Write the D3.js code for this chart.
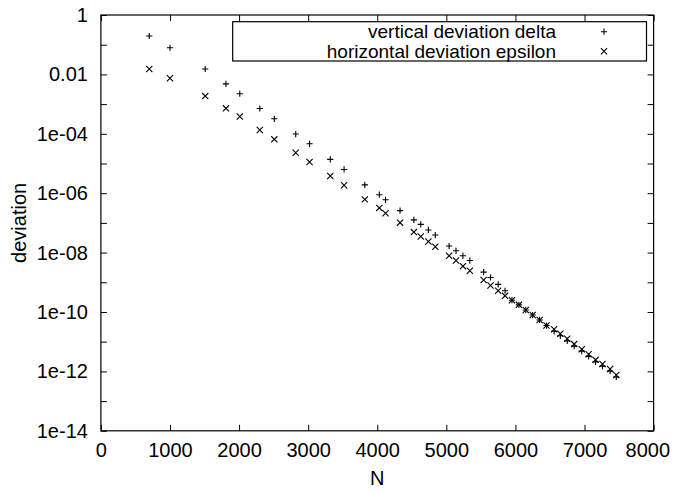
<!DOCTYPE html>
<html>
<head>
<meta charset="utf-8">
<script src="https://cdn.jsdelivr.net/npm/d3@7"></script>
<style>
  html, body { margin: 0; padding: 0; background: #fff; }
  svg { display: block; }
  text { font-family: "Liberation Sans", Arial, Helvetica, sans-serif; fill: #000; }
</style>
</head>
<body>
<svg id="chart" width="674" height="492"></svg>
<script>
// ---- data ----
const nValues = [700, 1000, 1510, 1810, 2010, 2300, 2510, 2820, 3020, 3320, 3520, 3820, 4030, 4120, 4330, 4530, 4630, 4740, 4840, 5040, 5140, 5240, 5340, 5540, 5640, 5750, 5850, 5950, 6050, 6150, 6250, 6350, 6450, 6560, 6650, 6750, 6850, 6960, 7060, 7160, 7260, 7370, 7460];
const deltaValues = [1.96e-1, 7.9e-2, 1.52e-2, 4.8e-3, 2.24e-3, 7.1e-4, 3.2e-4, 9.8e-5, 4.6e-5, 1.38e-5, 6.3e-6, 1.9e-6, 8.9e-7, 6.0e-7, 2.6e-7, 1.26e-7, 8.9e-8, 5.8e-8, 3.9e-8, 1.66e-8, 1.15e-8, 7.8e-9, 5.4e-9, 2.2e-9, 1.45e-9, 8.5e-10, 5.2e-10, 2.5e-10, 1.74e-10, 1.17e-10, 7.9e-11, 5.4e-11, 3.5e-11, 2.24e-11, 1.58e-11, 1.07e-11, 7.1e-12, 4.8e-12, 3.2e-12, 2.1e-12, 1.51e-12, 1.02e-12, 6.5e-13];
const epsilonValues = [1.52e-2, 7.4e-3, 1.86e-3, 7.2e-4, 3.8e-4, 1.35e-4, 6.5e-5, 2.3e-5, 1.12e-5, 3.8e-6, 1.86e-6, 6.2e-7, 3.2e-7, 2.1e-7, 1.02e-7, 4.9e-8, 3.5e-8, 2.35e-8, 1.58e-8, 7.8e-9, 5.4e-9, 3.5e-9, 2.45e-9, 1.2e-9, 7.8e-10, 5.2e-10, 3.5e-10, 2.5e-10, 1.74e-10, 1.17e-10, 7.9e-11, 5.4e-11, 3.5e-11, 2.63e-11, 1.86e-11, 1.26e-11, 8.3e-12, 5.6e-12, 3.8e-12, 2.45e-12, 1.78e-12, 1.2e-12, 7.6e-13];
const xTicks = [0, 1000, 2000, 3000, 4000, 5000, 6000, 7000, 8000];
const yTicks = [1, 1e-1, 1e-2, 1e-3, 1e-4, 1e-5, 1e-6, 1e-7, 1e-8, 1e-9, 1e-10, 1e-11, 1e-12, 1e-13, 1e-14];
const yTickLabels = ["1", "", "0.01", "", "1e-04", "", "1e-06", "", "1e-08", "", "1e-10", "", "1e-12", "", "1e-14"];
const seriesNames = ["vertical deviation delta", "horizontal deviation epsilon"];
const xTitle = "N";
const yTitle = "deviation";

// ---- layout ----
const W = 674;
const L = 100.9, R = 653.6, T = 15, B = 430.8;
const FONT = 20, KEYFONT = 19;
const svg = d3.select("#chart");

const x = d3.scaleLinear().domain([0, 8000]).range([L, R]);
const y = d3.scaleLog().domain([1e-14, 1]).range([B, T]);

function styleAxis(g) {
  g.select(".domain").remove();
  g.selectAll(".tick line").attr("stroke", "#000").attr("stroke-width", 1);
  g.selectAll(".tick text").style("font-size", FONT + "px").style("font-family", "'Liberation Sans', Arial, sans-serif").attr("fill", "#000");
}

const xAxisG = svg.append("g").attr("transform", `translate(0,${B})`)
  .call(d3.axisBottom(x).tickValues(xTicks).tickSize(-6).tickPadding(12).tickFormat(d3.format("d")))
  .call(styleAxis);
// keep the last tick label inside the window
xAxisG.selectAll(".tick").each(function () {
  const t = d3.select(this).select("text");
  const bb = this.getBBox();
  const m = this.getCTM();
  const right = m.e + bb.x + bb.width;
  if (right > W - 4) t.attr("x", (W - 4) - right);
});

svg.append("g").attr("transform", `translate(0,${T})`)
  .call(d3.axisTop(x).tickValues(xTicks).tickSize(-6).tickFormat(""))
  .call(styleAxis);
svg.append("g").attr("transform", `translate(${L},0)`)
  .call(d3.axisLeft(y).tickValues(yTicks).tickSize(-6).tickPadding(13).tickFormat((d, i) => yTickLabels[i]))
  .call(styleAxis);
svg.append("g").attr("transform", `translate(${R},0)`)
  .call(d3.axisRight(y).tickValues(yTicks).tickSize(-6).tickFormat(""))
  .call(styleAxis);

// frame
svg.append("rect").attr("x", L).attr("y", T).attr("width", R - L).attr("height", B - T)
  .attr("fill", "none").attr("stroke", "#000").attr("stroke-width", 1.2);

// titles
svg.append("text").attr("x", (L + R) / 2).attr("y", 485).attr("text-anchor", "middle")
  .style("font-size", FONT + "px").text(xTitle);
svg.append("text").attr("transform", `translate(26,${(T + B) / 2}) rotate(-90)`).attr("text-anchor", "middle")
  .style("font-size", FONT + "px").text(yTitle);

// markers
const S = 3.1;
function plusPath(cx, cy) { return `M${cx - S},${cy}H${cx + S}M${cx},${cy - S}V${cy + S}`; }
function crossPath(cx, cy) { const s = S; return `M${cx - s},${cy - s}L${cx + s},${cy + s}M${cx - s},${cy + s}L${cx + s},${cy - s}`; }

const gPts = svg.append("g").attr("stroke", "#000").attr("stroke-width", 1.1).attr("fill", "none");
gPts.selectAll("path.d").data(nValues).join("path").attr("class", "d")
  .attr("d", (n, i) => plusPath(x(n), y(deltaValues[i])));
gPts.selectAll("path.e").data(nValues).join("path").attr("class", "e")
  .attr("d", (n, i) => crossPath(x(n), y(epsilonValues[i])));

// legend
const lg = svg.append("g");
lg.append("rect").attr("x", 232.7).attr("y", 21.7).attr("width", 646.5 - 232.7).attr("height", 39.3)
  .attr("fill", "#fff").attr("stroke", "#000").attr("stroke-width", 1.2);
const rows = [31.7, 51.3];
seriesNames.forEach((name, i) => {
  lg.append("text").attr("x", 556).attr("y", rows[i]).attr("dy", "0.35em").attr("text-anchor", "end")
    .style("font-size", KEYFONT + "px").text(name);
  lg.append("path").attr("stroke", "#000").attr("stroke-width", 1.1)
    .attr("d", i === 0 ? plusPath(604, rows[i]) : crossPath(604, rows[i]));
});
</script>
</body>
</html>
